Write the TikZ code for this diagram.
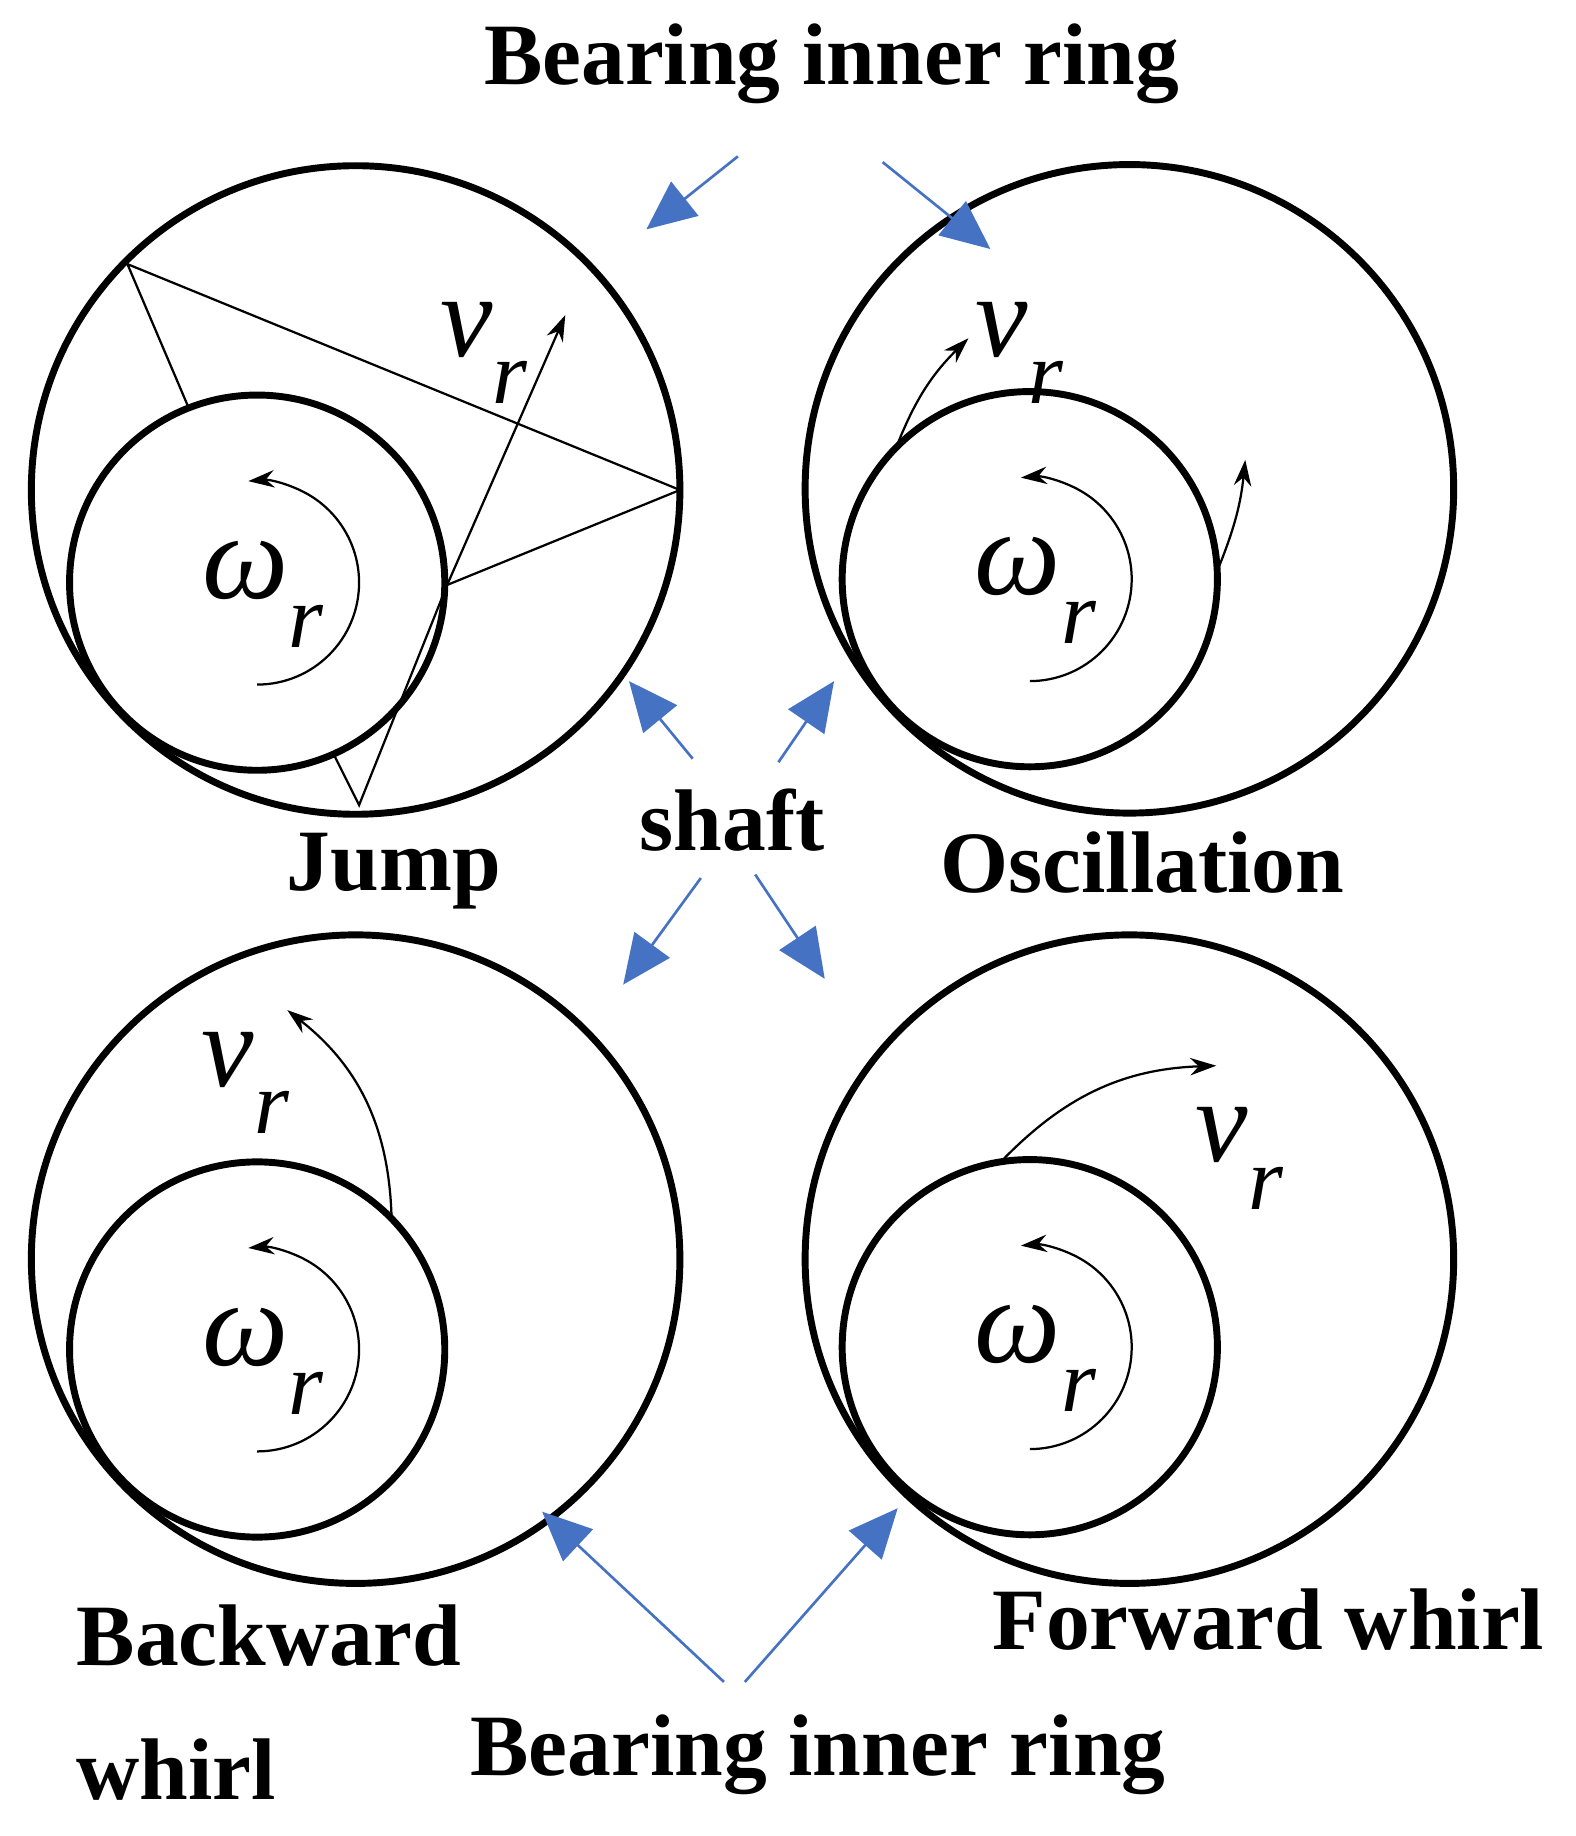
\documentclass[tikz,border=0pt]{standalone}
\usepackage{fontspec}
\setmainfont{Liberation Serif}
\usetikzlibrary{arrows.meta}
\definecolor{bl}{RGB}{70,114,196}
\newcommand{\vr}{\textit{v}\raisebox{-0.4em}{\fontsize{44}{48}\selectfont\textit{r}}}
\newcommand{\omr}{\textit{ω}\raisebox{-0.4em}{\fontsize{44}{48}\selectfont\textit{r}}}
\begin{document}
\begin{tikzpicture}[x=0.02cm,y=-0.02cm,
 outer/.style={line width=3.4pt},
 thin/.style={line width=1.1pt},
 va/.style={thin,-{Stealth[length=0.45cm,width=0.3cm]}},
 ba/.style={bl,line width=1.3pt,-{Triangle[length=0.85cm,width=0.75cm]}},
 lab/.style={font=\fontsize{43}{50}\selectfont\bfseries},
 om/.style={font=\fontsize{60}{64}\selectfont},
 vv/.style={font=\fontsize{58}{62}\selectfont}]
\useasboundingbox (0,0) rectangle (1360,1585);
\foreach \n/\ox/\oy/\ix/\iy in {A/307/423/222/503, B/975/422/889/500, C/307/1087/222/1165, D/975/1087/889/1163}{
 \draw[outer] (\ox,\oy) circle[radius=5.6cm];
 \draw[outer] (\ix,\iy) circle[radius=3.24cm];
 \draw[va] (\ix,\iy) ++(-90:1.76cm) arc[start angle=-90,end angle=95,radius=1.76cm];
 \node[om] at (\ix+5,\iy+10) {\omr};
}
\coordinate (p1) at (110,228); \coordinate (p2) at (587,423);
\coordinate (p3) at (162,350); \coordinate (p4) at (386,505);
\coordinate (p5) at (310,695); \coordinate (p6) at (289,653);
\draw[thin] (p3)--(p1)--(p2)--(p4)--(p5)--(p6);
\draw[va] (p4)--(488,272);
\node[vv] at (418,305) {\vr};
\draw[va] (773,388) to[bend left=12] (836,292);
\draw[va] (1052,490) to[bend right=8] (1075,397);
\node[vv] at (880,305) {\vr};
\draw[va] (338,1050) to[bend right=25] (248,872);
\node[vv] at (212,935) {\vr};
\draw[va] (864,1003) to[bend left=22] (1050,920);
\node[vv] at (1070,1000) {\vr};
\draw[ba] (637,135)--(558,198);
\draw[ba] (762,140)--(855,215);
\draw[ba] (598,655)--(543,588);
\draw[ba] (672,658)--(720,588);
\draw[ba] (605,758)--(538,850);
\draw[ba] (652,755)--(712,845);
\draw[ba] (625,1452)--(468,1305);
\draw[ba] (643,1452)--(775,1302);
\node[lab] (t1) at (718,55) {Bearing inner ring};
\node[lab] (t2) at (340,752) {Jump};
\node[lab] (t3) at (632,708) {shaft};
\node[lab] (t4) at (986,745) {Oscillation};
\node[lab,anchor=west] (t5) at (60,1412) {Backward};
\node[lab,anchor=west] (t6) at (60,1528) {whirl};
\node[lab] (t7) at (1095,1398) {Forward whirl};
\node[lab] (t8) at (706,1515) {Bearing inner ring};
\end{tikzpicture}
\end{document}
